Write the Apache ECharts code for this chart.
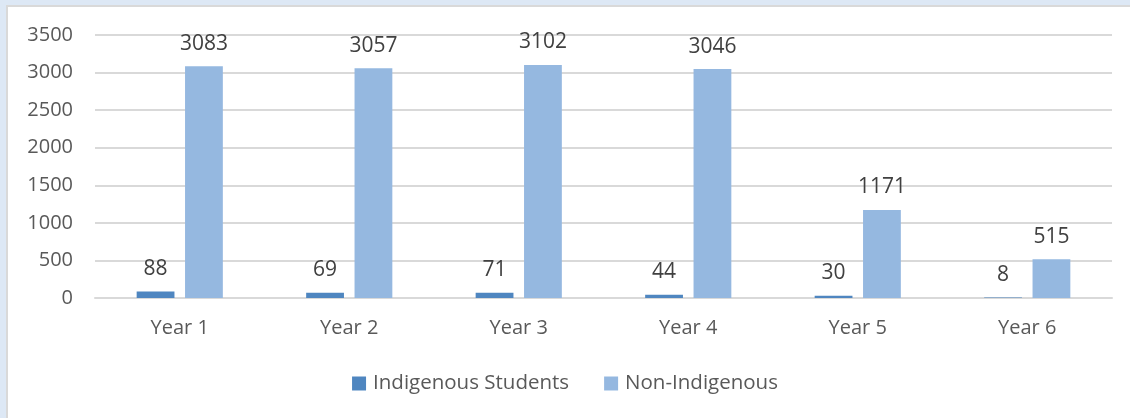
<!DOCTYPE html>
<html><head><meta charset="utf-8">
<script src="https://cdn.jsdelivr.net/npm/echarts@6/dist/echarts.min.js"></script>
<style>
html,body{margin:0;padding:0;width:1130px;height:418px;overflow:hidden;background:#dde8f5;}
#panel{position:absolute;left:6px;top:5px;width:1130px;height:420px;background:#fff;border:2px solid #d9d9d9;box-sizing:border-box;}
#chart{position:absolute;left:0;top:0;width:1130px;height:418px;}
</style></head>
<body>
<div id="panel"></div>
<div id="chart"></div>
<script>
var categories = ['Year 1','Year 2','Year 3','Year 4','Year 5','Year 6'];
var indigenous = [88, 69, 71, 44, 30, 8];
var nonIndigenous = [3083, 3057, 3102, 3046, 1171, 515];
var seriesNames = ['Indigenous Students', 'Non-Indigenous'];

var FONT = 'Open Sans';
var chart = echarts.init(document.getElementById('chart'), null, {renderer:'canvas'});
var labelStyle = {show:true, position:'top', distance:12, color:'#404040', fontSize:21, fontFamily:FONT};
chart.setOption({
  backgroundColor:'transparent',
  animation:false,
  grid:{left:95, right:18, top:35, bottom:120, containLabel:false},
  legend:{
    data:seriesNames, bottom:19, left:'center', itemWidth:14, itemHeight:14, itemGap:35,
    icon:'rect',
    textStyle:{color:'#595959', fontSize:20.5, fontFamily:FONT, padding:[0,0,0,2]}
  },
  xAxis:{
    type:'category', data:categories,
    axisLine:{show:true, lineStyle:{color:'#d9d9d9', width:2}},
    axisTick:{show:false},
    axisLabel:{color:'#595959', fontSize:20, fontFamily:FONT, margin:20}
  },
  yAxis:{
    type:'value', min:0, max:3500, interval:500,
    axisLine:{show:false}, axisTick:{show:false},
    splitLine:{lineStyle:{color:'#d9d9d9', width:2}},
    axisLabel:{color:'#595959', fontSize:20, fontFamily:FONT, margin:22,
      formatter:function(v){return String(v);}}
  },
  series:[
    {name:seriesNames[0], type:'bar', data:indigenous, barWidth:'22.3%', barGap:'28%',
     itemStyle:{color:'#4f86c0'}, label:labelStyle},
    {name:seriesNames[1], type:'bar', data:nonIndigenous, barWidth:'22.3%',
     itemStyle:{color:'#95b8e0'}, label:labelStyle}
  ]
});
</script>
</body></html>
